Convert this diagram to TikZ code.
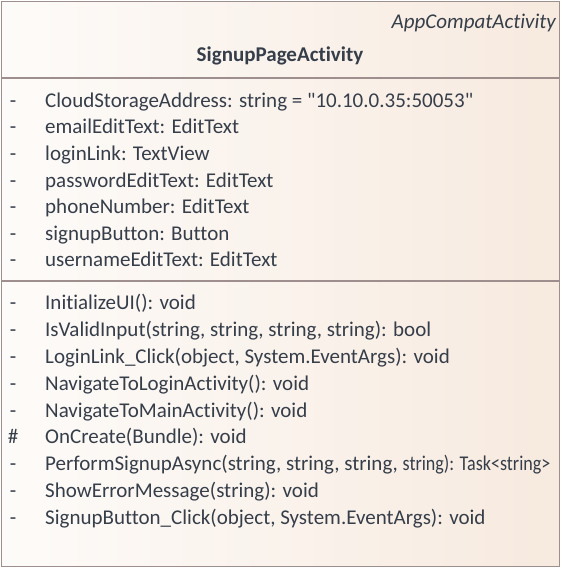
\documentclass[tikz,border=0pt]{standalone}
\usepackage{fontspec}
\setmainfont{Carlito}[Ligatures={NoCommon,TeXOff}]
\begin{document}
\begin{tikzpicture}[x=1pt,y=-1pt,
  txt/.style={text=textc,font=\fontsize{21}{24}\selectfont,inner sep=0pt,anchor=base west},
  vis/.style={text=textc,font=\fontsize{21}{24}\selectfont,inner sep=0pt,anchor=base},
  rule/.style={draw=borderc,line width=1.6pt}]
\definecolor{textc}{HTML}{363E4A}
\definecolor{borderc}{HTML}{9E8E8E}
\definecolor{fillL}{HTML}{FDFBF9}
\definecolor{fillR}{HTML}{F7EADF}
\useasboundingbox (0,0) rectangle (561,568);
\shade[left color=fillL,right color=fillR] (1.5,1.5) rectangle (559.5,566.5);
\draw[rule] (1.5,1.5) rectangle (559.5,566.5);
\coordinate (d1l) at (1.5,78); \coordinate (d1r) at (559.5,78);
\coordinate (d2l) at (1.5,281); \coordinate (d2r) at (559.5,281);
\draw[rule] (d1l) -- (d1r);
\draw[rule] (d2l) -- (d2r);
\node[text=textc,font=\fontsize{21}{24}\selectfont\itshape,inner sep=0pt,anchor=base east] (stereo) at (556,28) {AppCompatActivity};
\node[text=textc,font=\fontsize{21}{24}\selectfont\bfseries,inner sep=0pt,anchor=base] (name) at (280,61) {SignupPageActivity};
% attributes
\foreach \y/\v/\t [count=\i] in {
 107/-/{CloudStorageAddress: string = "10.10.0.35:50053"},
 133/-/{emailEditText: EditText},
 160/-/{loginLink: TextView},
 187/-/{passwordEditText: EditText},
 213/-/{phoneNumber: EditText},
 240/-/{signupButton: Button},
 266/-/{usernameEditText: EditText}}{
  \node[vis] (av\i) at (13,\y) {\v};
  \node[txt] (a\i) at (45,\y) {\t};
}
% operations
\foreach \y/\v/\t [count=\i] in {
 309/-/{InitializeUI(): void},
 336/-/{IsValidInput(string, string, string, string): bool},
 363/-/{LoginLink\_Click(object, System.EventArgs): void},
 390/-/{NavigateToLoginActivity(): void},
 417/-/{NavigateToMainActivity(): void},
 443/\#/{OnCreate(Bundle): void},
 470/-/{PerformSignupAsync(string, string, string, \scalebox{0.86}[1]{string): Task<string>}},
 497/-/{ShowErrorMessage(string): void},
 524/-/{SignupButton\_Click(object, System.EventArgs): void}}{
  \node[vis] (ov\i) at (13,\y) {\v};
  \node[txt] (o\i) at (45,\y) {\t};
}
\end{tikzpicture}
\end{document}
